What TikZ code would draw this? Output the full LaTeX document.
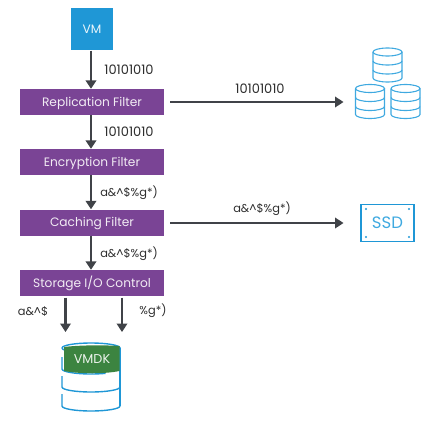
\documentclass[tikz,border=0pt]{standalone}
\usepackage{fontspec}
\setmainfont{Poppins}
\usetikzlibrary{arrows.meta}
\definecolor{vmblue}{HTML}{1F97D6}
\definecolor{iconblue}{HTML}{3FA9E0}
\definecolor{filt}{HTML}{7A4495}
\definecolor{vgreen}{HTML}{3C8440}
\definecolor{arr}{HTML}{404348}
\definecolor{txt}{HTML}{2E2E2E}
\tikzset{
  x=1pt,y=-1pt,
  filterbox/.style={fill=filt,draw=none,minimum width=144pt,minimum height=26pt,inner sep=0pt,text height=10pt,text depth=2pt,text=white!90!filt,font=\fontsize{12.2}{14}\selectfont},
  flow/.style={draw=arr,line width=2.2pt,-{Triangle[length=8.5pt,width=10.5pt]}},
  lab/.style={text=txt,font=\fontsize{11.4}{13}\selectfont,inner sep=0pt},
  digits/.style={text=txt,font=\fontsize{13}{15}\selectfont,inner sep=0pt},
  icon/.style={draw=iconblue,line width=1.1pt},
  pics/smalldb/.style={code={
    \draw[icon] (0,4) arc[x radius=14.5,y radius=4,start angle=180,end angle=-180];
    \draw[icon] (0,4) -- (0,30) arc[x radius=14.5,y radius=4,start angle=180,end angle=0] -- (29,4);
    \draw[icon] (0,13) arc[x radius=14.5,y radius=4,start angle=180,end angle=0];
    \draw[icon] (0,22) arc[x radius=14.5,y radius=4,start angle=180,end angle=0];
  }}
}
\begin{document}
\begin{tikzpicture}
\useasboundingbox (0,0) rectangle (441,420);
\node[fill=vmblue,minimum size=42pt,inner sep=0pt,text=white!90!vmblue,font=\fontsize{12.2}{14}\selectfont] (vm) at (92,29.5) {VM};
\node[filterbox] (rep) at (92,102) {Replication Filter};
\node[filterbox] (enc) at (92,162) {Encryption Filter};
\node[filterbox] (cache) at (92,222.5) {Caching Filter};
\node[filterbox] (sto) at (92,283) {Storage I/O Control};
\draw[flow] (vm.south -| 91,0) -- (rep.north -| 91,0);
\draw[flow] (rep.south -| 91,0) -- (enc.north -| 91,0);
\draw[flow] (enc.south -| 91,0) -- (cache.north -| 91,0);
\draw[flow] (cache.south -| 91,0) -- (sto.north -| 91,0);
\coordinate (s1) at (65.5,297.5);
\coordinate (s2) at (65.5,332);
\coordinate (s3) at (122,297.5);
\coordinate (s4) at (122,332);
\draw[flow] (s1) -- (s2);
\draw[flow] (s3) -- (s4);
\node[digits] (l1) at (129,69.5) {10101010};
\node[digits] (l2) at (129,132) {10101010};
\node[lab] (l3) at (129,193) {a\&\textasciicircum\$\%g*)};
\node[lab] (l4) at (129,254) {a\&\textasciicircum\$\%g*)};
\node[lab] (l5) at (33,311) {a\&\textasciicircum\$};
\node[lab] (l6) at (153,311) {\%g*)};
\node[digits] (l7) at (260,88.5) {10101010};
\node[lab] (l8) at (262,209) {a\&\textasciicircum\$\%g*)};
% Right-hand arrows
\coordinate (r1) at (170,102);
\coordinate (r2) at (343.5,102);
\coordinate (c1) at (170,223);
\coordinate (c2) at (343.5,223);
\draw[flow] (r1) -- (r2);
\draw[flow] (c1) -- (c2);
% DB stack
\pic at (373,48) {smalldb};
\pic at (355.5,84.5) {smalldb};
\pic at (391,84.5) {smalldb};
% SSD
\node[draw=vmblue,line width=1.4pt,minimum width=53pt,minimum height=37pt,inner sep=0pt,text=iconblue,font=\fontsize{16.5}{18}\selectfont] (ssd) at (387.5,223) {SSD};
\foreach \px in {366,409}{\foreach \qy in {209,237}{\fill[vmblue] (\px,\qy) circle (1.2);}}
% VMDK cylinder
\begin{scope}[draw=vmblue,line width=1.4pt]
\draw (62,348) arc[x radius=29,y radius=5,start angle=180,end angle=-180];
\draw (62,357) -- (62,369) arc[x radius=29,y radius=5,start angle=180,end angle=60];
\draw (120,348) -- (120,406);
\draw (62,376) -- (62,387) arc[x radius=29,y radius=5,start angle=180,end angle=0];
\draw (62,394) -- (62,406) arc[x radius=29,y radius=5,start angle=180,end angle=0];
\end{scope}
\fill[vgreen] (64,347) -- (64,371) .. controls (80,374) and (105,374) .. (119.5,371) -- (119.5,346) .. controls (105,345) and (80,345) .. (64,347) -- cycle;
\node[text=white!90!vgreen,inner sep=0pt,font=\fontsize{12.8}{15}\selectfont] (vmdk) at (92,359) {VMDK};
\end{tikzpicture}
\end{document}
